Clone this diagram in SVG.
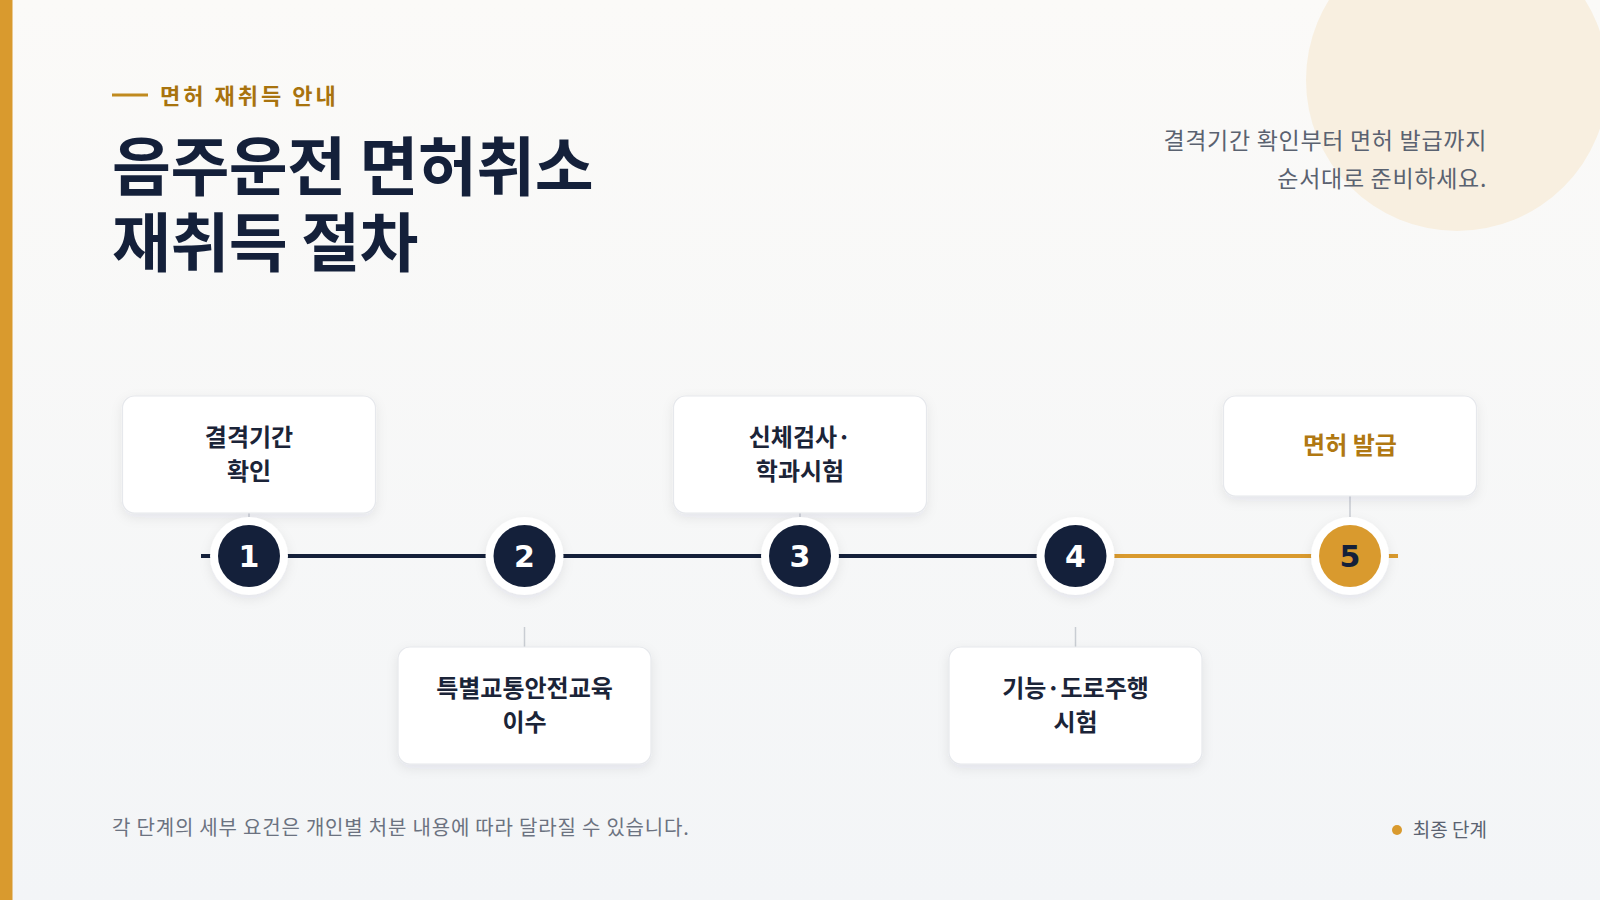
<svg xmlns="http://www.w3.org/2000/svg" width="1600" height="900" viewBox="0 0 1600 900">
<defs>
<linearGradient id="bg" x1="0" y1="0" x2="0" y2="1"><stop offset="0" stop-color="#FBFAF8"/><stop offset="1" stop-color="#F3F5F7"/></linearGradient>
<filter id="sh" x="-20%" y="-20%" width="140%" height="150%"><feDropShadow dx="0" dy="4" stdDeviation="6" flood-color="#1a2540" flood-opacity="0.08"/></filter>
</defs>
<style>
text{font-family:"Noto Sans CJK KR","Noto Sans",sans-serif}
.card{fill:#fff;stroke:#E6E8EC;stroke-width:1.2;filter:url(#sh)}
.lbl{font-size:24px;font-weight:700;fill:#1B2438;text-anchor:middle}
.num{font-size:30px;font-weight:700;fill:#fff;text-anchor:middle;font-family:"DejaVu Sans",sans-serif}
.ring{fill:#fff;filter:url(#sh)}
.tick{stroke:#C9CDD3;stroke-width:1.5}
</style>
<rect width="1600" height="900" fill="url(#bg)"/>
<circle cx="1457" cy="80" r="151" fill="#F8EFE0"/>
<rect x="0" y="0" width="12.5" height="900" fill="#D99A2E"/>
<line x1="112" y1="95" x2="148" y2="95" stroke="#C08A1E" stroke-width="3"/>
<text x="160" y="104" font-size="22" font-weight="700" fill="#A8730E" letter-spacing="3">면허 재취득 안내</text>
<text x="112" y="190" font-size="64" font-weight="700" fill="#14203A" letter-spacing="-0.5">음주운전 면허취소</text>
<text x="112" y="266" font-size="64" font-weight="700" fill="#14203A" letter-spacing="-0.5">재취득 절차</text>
<text x="1487" y="149" font-size="23" fill="#5A6270" text-anchor="end" letter-spacing="0.7">결격기간 확인부터 면허 발급까지</text>
<text x="1487" y="187" font-size="23" fill="#5A6270" text-anchor="end" letter-spacing="0.7">순서대로 준비하세요.</text>
<g id="connectors">
<line x1="201" y1="556" x2="1113" y2="556" stroke="#14203A" stroke-width="4"/>
<line x1="1113" y1="556" x2="1398" y2="556" stroke="#D99A2E" stroke-width="4"/>
<line class="tick" x1="249" y1="512" x2="249" y2="517"/>
<line class="tick" x1="800" y1="512" x2="800" y2="517"/>
<line class="tick" x1="1350" y1="496" x2="1350" y2="517"/>
<line class="tick" x1="524.5" y1="627" x2="524.5" y2="647"/>
<line class="tick" x1="1075.5" y1="627" x2="1075.5" y2="647"/>
</g>
<g id="node1"><rect class="card" x="122.5" y="396" width="253" height="117" rx="12"/>
<text class="lbl" x="249" y="446">결격기간</text><text class="lbl" x="249" y="480">확인</text>
<circle class="ring" cx="249" cy="556" r="39"/><circle cx="249" cy="556" r="31" fill="#14203A"/><text class="num" x="249" y="567">1</text></g>
<g id="node2"><rect class="card" x="398" y="647" width="253" height="117" rx="12"/>
<text class="lbl" x="524.5" y="697">특별교통안전교육</text><text class="lbl" x="524.5" y="731">이수</text>
<circle class="ring" cx="524.5" cy="556" r="39"/><circle cx="524.5" cy="556" r="31" fill="#14203A"/><text class="num" x="524.5" y="567">2</text></g>
<g id="node3"><rect class="card" x="673.5" y="396" width="253" height="117" rx="12"/>
<text class="lbl" x="800" y="446">신체검사·</text><text class="lbl" x="800" y="480">학과시험</text>
<circle class="ring" cx="800" cy="556" r="39"/><circle cx="800" cy="556" r="31" fill="#14203A"/><text class="num" x="800" y="567">3</text></g>
<g id="node4"><rect class="card" x="949" y="647" width="253" height="117" rx="12"/>
<text class="lbl" x="1075.5" y="697">기능·도로주행</text><text class="lbl" x="1075.5" y="731">시험</text>
<circle class="ring" cx="1075.5" cy="556" r="39"/><circle cx="1075.5" cy="556" r="31" fill="#14203A"/><text class="num" x="1075.5" y="567">4</text></g>
<g id="node5"><rect class="card" x="1223.5" y="396" width="253" height="100" rx="12"/>
<text class="lbl" x="1350" y="454" style="fill:#B07812">면허 발급</text>
<circle class="ring" cx="1350" cy="556" r="39"/><circle cx="1350" cy="556" r="31" fill="#D99A2E"/><text class="num" x="1350" y="567" style="fill:#14203A">5</text></g>
<text x="112" y="835" font-size="20" fill="#6B7280" letter-spacing="0.8">각 단계의 세부 요건은 개인별 처분 내용에 따라 달라질 수 있습니다.</text>
<circle cx="1397" cy="830" r="5" fill="#D99A2E"/>
<text x="1487" y="837" font-size="19" fill="#5A6270" text-anchor="end">최종 단계</text>
</svg>
